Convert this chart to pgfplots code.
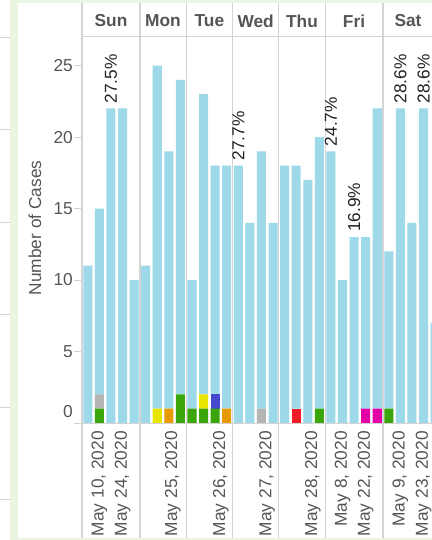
\documentclass[border=0pt]{standalone}
\usepackage{fontspec}
\setmainfont{Liberation Sans}
\usepackage{pgfplots}
\pgfplotsset{compat=1.18}
\usepackage{pgfplotstable}

\definecolor{lb}{HTML}{9DD9E8}
\definecolor{cgreen}{HTML}{3AA60A}
\definecolor{cgray}{HTML}{B5B5B3}
\definecolor{cyellow}{HTML}{E8E600}
\definecolor{corange}{HTML}{E89A00}
\definecolor{cblue}{HTML}{4448CC}
\definecolor{cred}{HTML}{EE1D25}
\definecolor{cmag}{HTML}{E300A7}
\definecolor{gridc}{HTML}{D4D4D4}
\definecolor{txt}{HTML}{555555}
\definecolor{pct}{HTML}{222222}
\definecolor{framec}{HTML}{EAF6E1}

\newcommand\fs{\fontsize{17.3bp}{20bp}\selectfont}

\pgfplotstableread{
x cg cgr cy co cb cr cm rest
0 0 0 0 0 0 0 0 11
1 1 1 0 0 0 0 0 13
2 0 0 0 0 0 0 0 22
3 0 0 0 0 0 0 0 22
4 0 0 0 0 0 0 0 10
5 0 0 0 0 0 0 0 11
6 0 0 1 0 0 0 0 24
7 0 0 0 1 0 0 0 18
8 2 0 0 0 0 0 0 22
9 1 0 0 0 0 0 0 9
10 1 0 1 0 0 0 0 21
11 1 0 0 0 1 0 0 16
12 0 0 0 1 0 0 0 17
13 0 0 0 0 0 0 0 18
14 0 0 0 0 0 0 0 14
15 0 1 0 0 0 0 0 18
16 0 0 0 0 0 0 0 14
17 0 0 0 0 0 0 0 18
18 0 0 0 0 0 1 0 17
19 0 0 0 0 0 0 0 17
20 1 0 0 0 0 0 0 19
21 0 0 0 0 0 0 0 19
22 0 0 0 0 0 0 0 10
23 0 0 0 0 0 0 0 13
24 0 0 0 0 0 0 1 12
25 0 0 0 0 0 0 1 21
26 1 0 0 0 0 0 0 11
27 0 0 0 0 0 0 0 22
28 0 0 0 0 0 0 0 14
29 0 0 0 0 0 0 0 22
30 0 0 0 0 0 0 0 7
}\data

\pgfplotsset{frameaxis/.style={
  at={(82bp,117bp)}, anchor=south west,
  scale only axis, width=350bp, height=386bp,
  xmin=-0.5, xmax=29.73, ymin=0, ymax=27}}

\begin{document}
\begin{tikzpicture}
\useasboundingbox (0,0) rectangle (432bp,540bp);
\clip (0,0) rectangle (432bp,540bp);
\fill[white] (0,0) rectangle (432bp,540bp);
\fill[framec] (10bp,0) rectangle (432bp,540bp);
\fill[white] (18bp,2bp) rectangle (432bp,536.7bp);
\foreach \yy in {502.5,410,317.5,225,132.5,40}
  \draw[gridc, line width=1bp] (0,\yy bp) -- (10bp,\yy bp);
% structure lines
\foreach \xx in {82,139.9,186.2,232.5,278.8,325.1,383.0}
  \draw[gridc, line width=1.2bp] (\xx bp,2bp) -- (\xx bp,536.7bp);
\draw[gridc, line width=1bp] (82bp,503.5bp) -- (432bp,503.5bp);
% header
\foreach \xx/\dd in {111/Sun,163/Mon,209.4/Tue,255.7/Wed,302/Thu,354/Fri,408/Sat}
  \node[font=\fs\bfseries, text=txt] at (\xx bp,519bp) {\dd};
\node[rotate=90, font=\fs, text=txt] at (35bp,312bp) {Number of Cases};

\begin{axis}[
  frameaxis,
  ybar stacked, bar width=0.78,
  axis lines*=left,
  axis line style={gridc, line width=1bp},
  tick align=outside,
  major tick length=8bp,
  tick style={gridc, line width=1bp},
  ytick={5,10,15,20,25},
  extra y ticks={0},
  extra y tick style={yticklabel style={yshift=11bp}},
  yticklabel style={font=\fs, text=txt, inner sep=0pt, inner xsep=1bp},
  xtick={1,3,7.35,11.5,15.48,19.45,22,24,27,29},
  xticklabels={{May 10, 2020},{May 24, 2020},{May 25, 2020},{May 26, 2020},{May 27, 2020},{May 28, 2020},{May 8, 2020},{May 22, 2020},{May 9, 2020},{May 23, 2020}},
  xtick style={draw=none},
  xticklabel style={font=\fs, text=txt, rotate=90, anchor=east, inner sep=0pt},
  extra x ticks={1,3,6,8,10,11.3,14,16,18,20,22,24,27,29},
  extra x tick labels={},
  extra x tick style={major tick length=3bp, tick style={gridc, line width=1bp}},
  /pgf/number format/assume math mode=true,
]
\addplot[fill=cgreen, draw=none] table[x=x, y=cg] {\data};
\addplot[fill=cgray, draw=none] table[x=x, y=cgr] {\data};
\addplot[fill=cyellow, draw=none] table[x=x, y=cy] {\data};
\addplot[fill=corange, draw=none] table[x=x, y=co] {\data};
\addplot[fill=cblue, draw=none] table[x=x, y=cb] {\data};
\addplot[fill=cred, draw=none] table[x=x, y=cr] {\data};
\addplot[fill=cmag, draw=none] table[x=x, y=cm] {\data};
\addplot[fill=lb, draw=none] table[x=x, y=rest] {\data};
\end{axis}

\begin{axis}[
  frameaxis, hide axis, clip=false,
]
\addplot[draw=none, mark=none, nodes near coords, point meta=explicit symbolic,
  nodes near coords style={rotate=90, anchor=west, font=\fs, text=pct, inner sep=0pt, inner xsep=5bp}]
  coordinates {(2,22) [27.5\%] (13,18) [27.7\%] (21,19) [24.7\%] (23,13) [16.9\%] (27,22) [28.6\%] (29,22) [28.6\%]};
\end{axis}
\end{tikzpicture}
\end{document}
